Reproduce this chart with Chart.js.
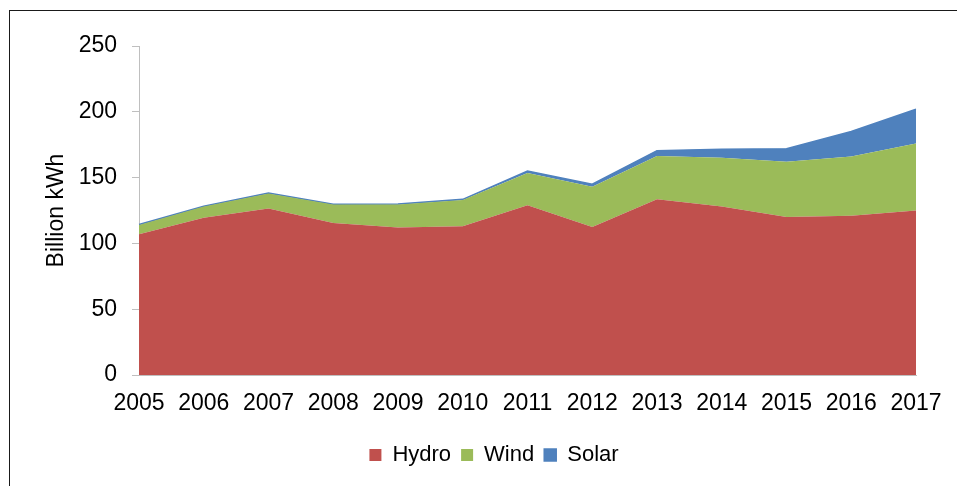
<!DOCTYPE html>
<html>
<head>
<meta charset="utf-8">
<script src="https://cdn.jsdelivr.net/npm/chart.js@4"></script>
<style>
  html, body { margin: 0; padding: 0; background: #fff; overflow: hidden; }
  #wrap { position: relative; width: 957px; height: 486px; }
  #frame { position: absolute; left: 9px; top: 10px; width: 1000px; height: 1000px; border: 1.5px solid #1a1a1a; }
  canvas { position: absolute; left: 0; top: 0; }
</style>
</head>
<body>
<div id="wrap">
  <div id="frame"></div>
  <canvas id="chart" width="957" height="486"></canvas>
</div>
<script>
const years = ['2005', '2006', '2007', '2008', '2009', '2010', '2011', '2012', '2013', '2014', '2015', '2016', '2017'];
const hydro = [107, 119.5, 126.5, 115.5, 112, 113, 129, 112.5, 133.5, 128, 120, 121, 125];
const wind  = [7, 8.5, 11.5, 14, 17.5, 20, 24.5, 30.5, 33, 37, 42, 45, 51];
const solar = [0.3, 0.3, 0.3, 0.3, 0.4, 0.5, 1.5, 2, 4, 6.5, 10, 19, 26];
const yTicks = [0, 50, 100, 150, 200, 250];

const font = { family: "'Liberation Sans', Arial, sans-serif", size: 23 };
const axisGrey = '#bfbfbf';

// legend in the original sits a bit right of the canvas centre
const shiftLegend = {
  id: 'shiftLegend',
  afterLayout(chart) {
    chart.legend.left += 36;
    chart.legend.right += 36;
  }
};

new Chart(document.getElementById('chart'), {
  type: 'line',
  data: {
    labels: years,
    datasets: [
      { label: 'Hydro', data: hydro, backgroundColor: '#c0504d', borderColor: '#c0504d', borderWidth: 0, fill: 'origin' },
      { label: 'Wind',  data: wind,  backgroundColor: '#9bbb59', borderColor: '#9bbb59', borderWidth: 0, fill: '-1' },
      { label: 'Solar', data: solar, backgroundColor: '#4f81bd', borderColor: '#4f81bd', borderWidth: 1.5, fill: '-1' }
    ]
  },
  options: {
    responsive: false,
    animation: false,
    elements: { point: { radius: 0 }, line: { tension: 0 } },
    layout: { padding: { left: 0, top: 46, right: 41, bottom: 10 } },
    plugins: {
      tooltip: { enabled: false },
      legend: {
        position: 'bottom',
        labels: { font: { family: font.family, size: 22 }, color: '#000', boxWidth: 12, boxHeight: 12, padding: 10 }
      }
    },
    scales: {
      x: {
        grid: { drawOnChartArea: false, drawTicks: false },
        border: { color: axisGrey },
        ticks: { font: font, color: '#000', padding: 15, maxRotation: 0, autoSkip: false },
        afterFit: s => { s.height = 59; }
      },
      y: {
        stacked: true,
        min: 0,
        max: 250,
        afterBuildTicks: s => { s.ticks = yTicks.map(v => ({ value: v })); },
        grid: { drawOnChartArea: false, drawTicks: true, tickLength: 7, color: axisGrey },
        border: { color: axisGrey },
        ticks: { font: font, color: '#000', padding: 15 },
        title: { display: true, text: 'Billion kWh', font: font, color: '#000', padding: { top: 43, bottom: 0 } },
        afterFit: s => { s.width = 139; }
      }
    }
  },
  plugins: [shiftLegend]
});
</script>
</body>
</html>
